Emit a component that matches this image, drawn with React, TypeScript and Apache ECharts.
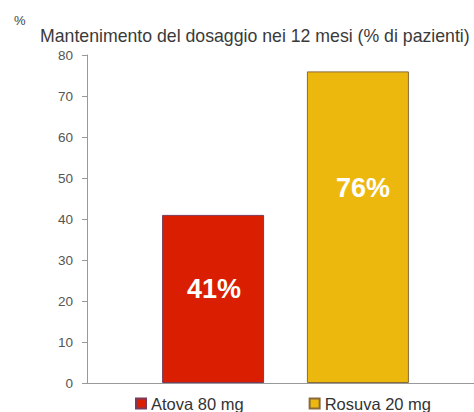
import React, { useEffect, useRef } from "react";
import * as echarts from "echarts";

const categories = [""];
const seriesNames = ["Atova 80 mg", "Rosuva 20 mg"];
const atovaValues = [41];
const rosuvaValues = [76];
const yTicks = [0, 10, 20, 30, 40, 50, 60, 70, 80];
const titleText = "Mantenimento del dosaggio nei 12 mesi (% di pazienti)";
const unitText = "%";

export default function App() {
  const ref = useRef<HTMLDivElement>(null);
  useEffect(() => {
    if (!ref.current) return;
    const chart = echarts.init(ref.current, null, { renderer: "svg" });
    const font = "Liberation Sans, Arial, sans-serif";
    const yMin = yTicks[0];
    const yMax = yTicks[yTicks.length - 1];
    chart.setOption({
      animation: false,
      backgroundColor: "#ffffff",
      textStyle: { fontFamily: font },
      title: [
        {
          text: unitText,
          left: 9,
          top: 9,
          textStyle: { fontSize: 13, fontWeight: "normal", color: "#444", fontFamily: font },
        },
        {
          text: titleText,
          left: 35,
          top: 22,
          textStyle: { fontSize: 17.7, fontWeight: "normal", color: "#3a3a3a", fontFamily: font },
        },
      ],
      legend: {
        left: 130,
        top: 390,
        icon: "rect",
        itemWidth: 10,
        itemHeight: 10,
        itemGap: 65,
        textStyle: { fontSize: 16.5, color: "#333", fontFamily: font },
        data: seriesNames,
      },
      grid: [
        { left: 87, right: 0, top: 55, bottom: 29, containLabel: false },
        { left: 97, right: 0, top: 55, bottom: 29, containLabel: false },
      ],
      xAxis: [
        {
          type: "category",
          gridIndex: 0,
          data: categories,
          axisLine: { show: true, lineStyle: { color: "#999", width: 1 } },
          axisTick: { show: false },
          axisLabel: { show: false },
        },
        {
          type: "category",
          gridIndex: 1,
          data: categories,
          axisLine: { show: false },
          axisTick: { show: false },
          axisLabel: { show: false },
        },
      ],
      yAxis: [
        {
          type: "value",
          gridIndex: 0,
          min: yMin,
          max: yMax,
          interval: 10,
          axisLine: { show: true, lineStyle: { color: "#999", width: 1 } },
          axisTick: { show: true, length: 5, lineStyle: { color: "#999" } },
          axisLabel: { fontSize: 13.5, color: "#555", margin: 14, fontFamily: font },
          splitLine: { show: false },
        },
        {
          type: "value",
          gridIndex: 1,
          min: yMin,
          max: yMax,
          interval: 10,
          show: false,
          splitLine: { show: false },
        },
      ],
      series: [
        {
          name: seriesNames[0],
          type: "bar",
          xAxisIndex: 1,
          yAxisIndex: 1,
          barWidth: 102,
          barGap: "42%",
          itemStyle: { color: "#D91E02", borderColor: "#7a3a5a", borderWidth: 1 },
          label: {
            show: true,
            position: [52, 74],
            align: "center",
            verticalAlign: "middle",
            formatter: "{c}%",
            color: "#ffffff",
            fontSize: 27,
            fontWeight: "bold",
            fontFamily: font,
          },
          data: atovaValues,
        },
        {
          name: seriesNames[1],
          type: "bar",
          xAxisIndex: 1,
          yAxisIndex: 1,
          barWidth: 102,
          itemStyle: { color: "#EDB80E", borderColor: "#8a6a3a", borderWidth: 1 },
          label: {
            show: true,
            position: [56, 117],
            align: "center",
            verticalAlign: "middle",
            formatter: "{c}%",
            color: "#ffffff",
            fontSize: 27,
            fontWeight: "bold",
            fontFamily: font,
          },
          data: rosuvaValues,
        },
      ],
    });
    return () => chart.dispose();
  }, []);
  return <div ref={ref} style={{ width: 474, height: 412, position: "absolute", left: 0, top: 0 }} />;
}
